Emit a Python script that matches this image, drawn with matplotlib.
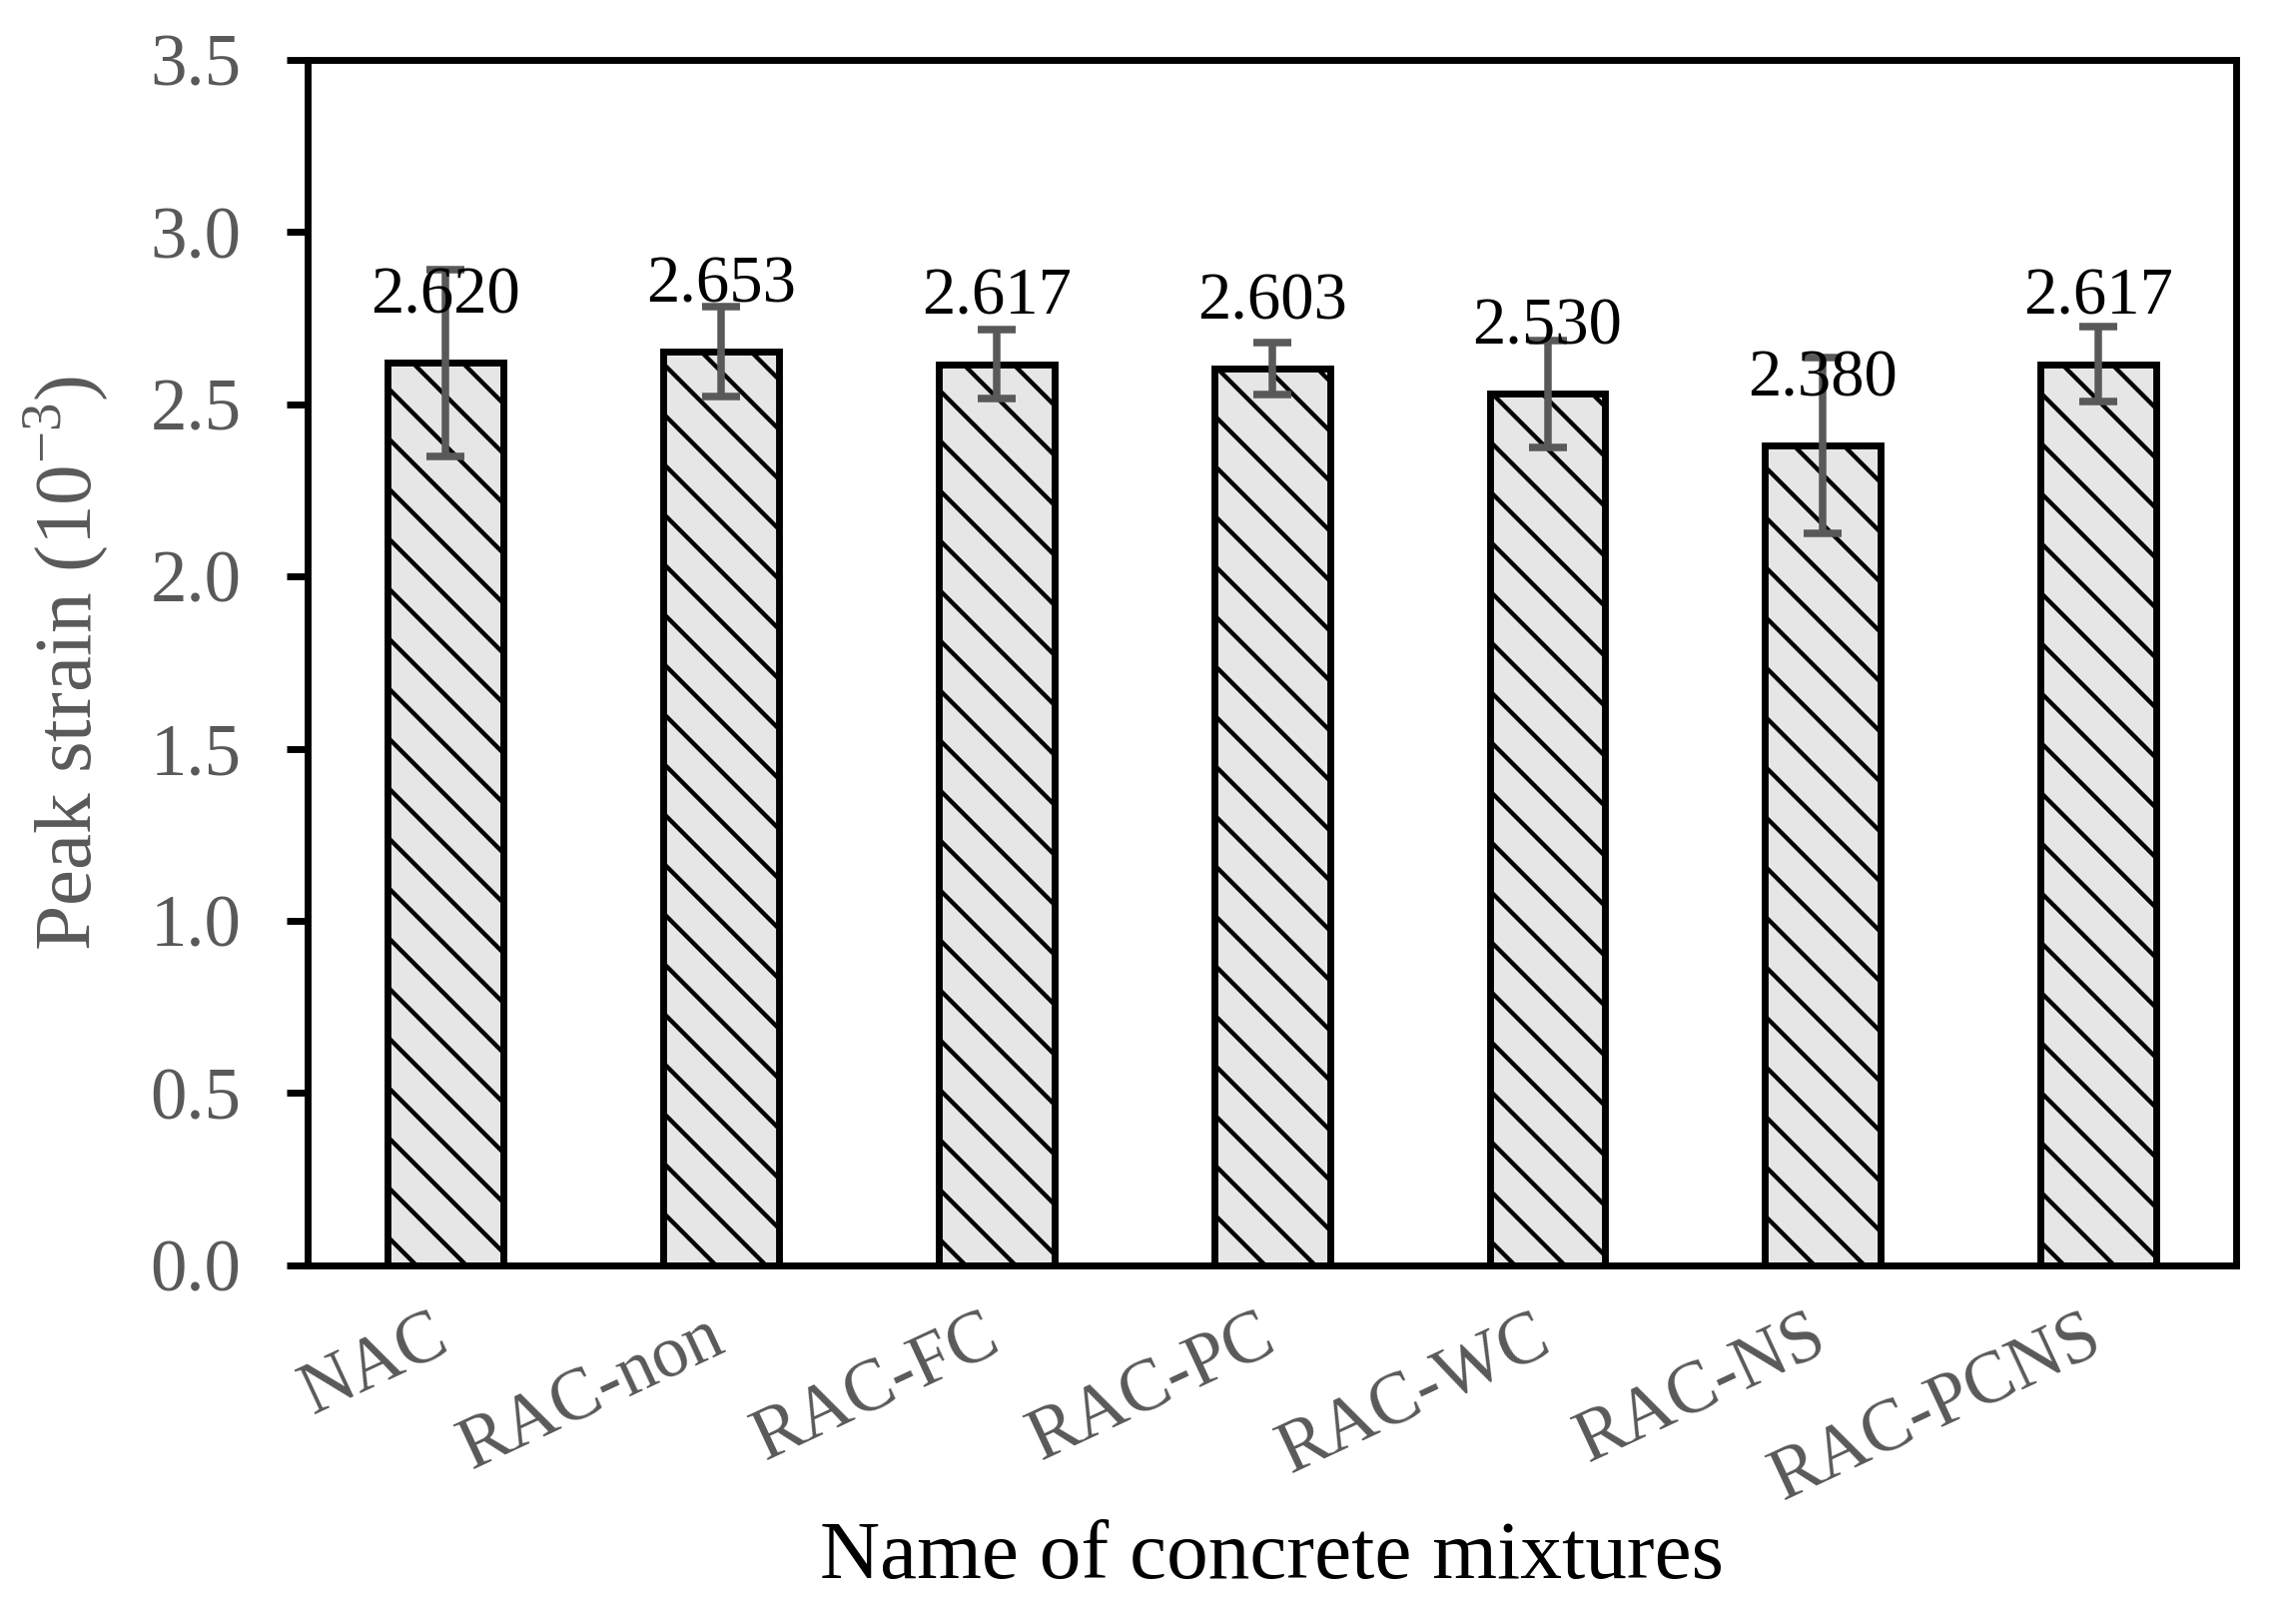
import matplotlib
matplotlib.use("Agg")
import matplotlib.pyplot as plt
import numpy as np

# peak strain of each mixture (x10^-3) with the error bar half-widths
mixtures = ['NAC', 'RAC-non', 'RAC-FC', 'RAC-PC', 'RAC-WC', 'RAC-NS', 'RAC-PCNS']
peak_strain = [2.620, 2.653, 2.617, 2.603, 2.530, 2.380, 2.617]
strain_err = [0.27, 0.13, 0.10, 0.075, 0.155, 0.255, 0.11]
y_ticks = [0.0, 0.5, 1.0, 1.5, 2.0, 2.5, 3.0, 3.5]

plt.rcParams['font.family'] = ['Liberation Serif', 'DejaVu Serif']
plt.rcParams['mathtext.fontset'] = 'custom'
plt.rcParams['mathtext.rm'] = 'Liberation Serif'
plt.rcParams['hatch.linewidth'] = 2.1
plt.rcParams['hatch.color'] = '#333333'

gray = '#595959'

# dpi 150 so one hatch unit (1 inch) gives the wider line spacing of the original
fig = plt.figure(figsize=(2299 / 150, 1624 / 150), dpi=150)
ax = fig.add_axes([0.134, 0.22, 0.84, 0.743])

x = np.arange(len(mixtures))
ax.bar(x, peak_strain, width=0.42, color='#e6e6e6', edgecolor='black',
       linewidth=3.3, hatch='\\', zorder=2)
ax.errorbar(x, peak_strain, yerr=strain_err, fmt='none', ecolor=gray,
            elinewidth=3.6, capsize=9, capthick=3.6, zorder=3)

for xi, v in zip(x, peak_strain):
    ax.annotate(f'{v:.3f}', (xi, v), xytext=(0, 24), textcoords='offset points',
                ha='center', va='baseline', fontsize=32, color='black', zorder=4)

ax.set_xlim(-0.5, len(mixtures) - 0.5)
ax.set_ylim(0, 3.5)
ax.set_yticks(y_ticks)
ax.set_yticklabels([f'{t:.1f}' for t in y_ticks])
ax.set_xticks(x)
ax.set_xticklabels(mixtures, rotation=25, ha='right', va='center',
                   rotation_mode='anchor')

ax.tick_params(axis='y', direction='out', length=10, width=3.3, color='black',
               pad=22, labelsize=35, labelcolor=gray)
ax.tick_params(axis='x', length=0, pad=33, labelsize=35, labelcolor=gray)

for s in ax.spines.values():
    s.set_linewidth(3.3)
    s.set_color('black')

ax.set_ylabel('Peak strain (10$^{\\mathrm{-3}}$)', fontsize=39, color=gray, va='center')
ax.yaxis.set_label_coords(-0.125, 0.5)
ax.set_xlabel('Name of concrete mixtures', fontsize=40, color='black', va='center')
ax.xaxis.set_label_coords(0.5, -0.243)

fig.savefig('out.png', dpi=150)
